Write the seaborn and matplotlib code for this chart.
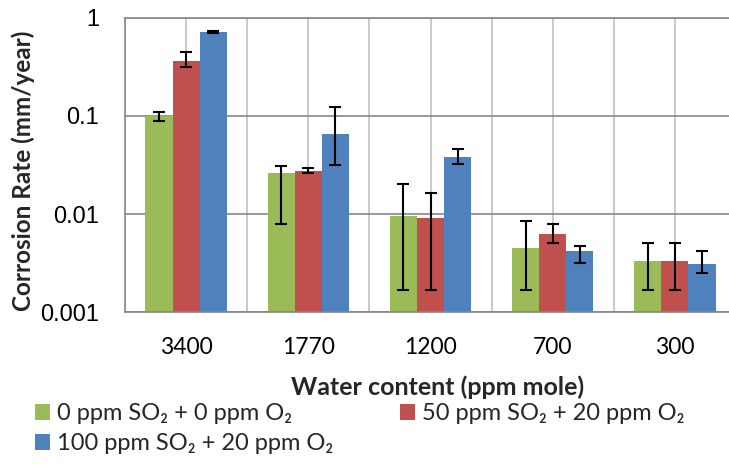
import matplotlib
matplotlib.use("Agg")
import matplotlib.pyplot as plt
import numpy as np
import pandas as pd
import seaborn as sns
from matplotlib.ticker import LogLocator, NullFormatter, FixedLocator

# Water content categories (ppm mole)
water = ["3400", "1770", "1200", "700", "300"]

# Gas compositions
series = [
    "0 ppm SO\u2082 + 0 ppm O\u2082",
    "50 ppm SO\u2082 + 20 ppm O\u2082",
    "100 ppm SO\u2082 + 20 ppm O\u2082",
]

# Mean corrosion rates (mm/year)
rate_0so2 = [0.100, 0.026, 0.0095, 0.0045, 0.0033]
rate_50so2 = [0.363, 0.0274, 0.0092, 0.0063, 0.0033]
rate_100so2 = [0.711, 0.0646, 0.0383, 0.0042, 0.0031]

# Lower / upper ends of the error bars (mm/year)
low_0so2 = [0.088, 0.0079, 0.00167, 0.00167, 0.00167]
high_0so2 = [0.110, 0.0305, 0.0203, 0.0085, 0.0051]
low_50so2 = [0.313, 0.0261, 0.00167, 0.0051, 0.00167]
high_50so2 = [0.449, 0.0296, 0.0164, 0.0080, 0.0051]
low_100so2 = [0.700, 0.0317, 0.0322, 0.0032, 0.0025]
high_100so2 = [0.729, 0.1235, 0.0455, 0.0047, 0.0042]

y_ticks = [0.001, 0.01, 0.1, 1]
y_tick_labels = ["0.001", "0.01", "0.1", "1"]

colors = ["#9BBB59", "#C0504D", "#4F81BD"]
axis_grey = "#868686"
grid_grey = "#C0C0C0"

sns.set_theme(style="white")
plt.rcParams["font.family"] = ["Lato", "DejaVu Sans"]

rates = [rate_0so2, rate_50so2, rate_100so2]
lows = [low_0so2, low_50so2, low_100so2]
highs = [high_0so2, high_50so2, high_100so2]

df = pd.DataFrame({
    "water": np.tile(water, len(series)),
    "series": np.repeat(series, len(water)),
    "rate": np.concatenate(rates),
})

W, H = 729, 466
fig = plt.figure(figsize=(W / 100, H / 100), dpi=100)
ax = fig.add_axes([125 / W, 1 - 312.3 / H, 611 / W, 294.8 / H])

sns.barplot(
    data=df, x="water", y="rate", hue="series", order=water, hue_order=series,
    palette=colors, width=2 / 3, saturation=1, errorbar=None,
    ax=ax, zorder=2, linewidth=0,
)
# log axis; bars rooted at zero are clipped to the bottom of the axis
ax.set_yscale("log", nonpositive="clip")

# asymmetric error bars at each bar centre
bar_groups = list(ax.containers)
for cont, vals, lo, hi in zip(bar_groups, rates, lows, highs):
    xs = [p.get_x() + p.get_width() / 2 for p in cont]
    vals = np.asarray(vals)
    yerr = [vals - np.asarray(lo), np.asarray(hi) - vals]
    ax.errorbar(xs, vals, yerr=yerr, fmt="none", ecolor="black",
                elinewidth=1.5, capsize=4.5, capthick=1.5, zorder=3)

handles, labels = ax.get_legend_handles_labels()
if ax.get_legend() is not None:
    ax.get_legend().remove()

ax.set_xlim(-0.5, len(water) - 0.5)
ax.set_ylim(0.001, 1)
ax.set_xlabel("")
ax.set_ylabel("")

# y axis: decades with inside minor ticks
ax.yaxis.set_major_locator(FixedLocator(y_ticks))
ax.set_yticklabels(y_tick_labels, fontfamily="Liberation Sans", fontsize=17)
ax.yaxis.set_minor_locator(LogLocator(base=10, subs=np.arange(2, 10)))
ax.yaxis.set_minor_formatter(NullFormatter())
ax.tick_params(axis="y", which="major", direction="in", length=6, width=1,
               color=axis_grey, pad=18.5, labelcolor="black")
ax.tick_params(axis="y", which="minor", direction="in", length=4, width=1,
               color=axis_grey)

# x axis: category labels, marks at centres and boundaries
ax.set_xticks(range(len(water)))
ax.set_xticklabels(water, fontsize=16.5)
ax.xaxis.set_minor_locator(FixedLocator(np.arange(-0.5, len(water), 1.0)))
ax.tick_params(axis="x", which="both", direction="in", length=3.5, width=1,
               color=axis_grey, pad=18, labelcolor="black")

ax.grid(axis="y", which="major", color=axis_grey, linewidth=1.2)
ax.grid(axis="x", which="both", color=grid_grey, linewidth=1.2)
ax.set_axisbelow(True)

for side in ["left", "bottom", "top"]:
    ax.spines[side].set_visible(True)
    ax.spines[side].set_color(axis_grey)
    ax.spines[side].set_linewidth(1.2)
ax.spines["right"].set_visible(False)

fig.text(23 / W, 1 - 171 / H, "Corrosion Rate (mm/year)", rotation=90,
         ha="center", va="center", fontsize=17.5, fontweight="bold")
fig.text(438 / W, 1 - 387 / H, "Water content (ppm mole)",
         ha="center", va="center", fontsize=18, fontweight="bold")

# row-wise legend order: first row holds the first two gas mixtures
order = [0, 2, 1]
fig.legend([handles[i] for i in order], [labels[i] for i in order],
           loc="upper left", bbox_to_anchor=(35 / W, 1 - 403.5 / H),
           ncol=2, frameon=False, fontsize=17, handlelength=0.64,
           handleheight=0.64, handletextpad=0.3, columnspacing=2.8,
           labelspacing=0.38, borderpad=0, borderaxespad=0)

fig.savefig("out.png", dpi=100)
